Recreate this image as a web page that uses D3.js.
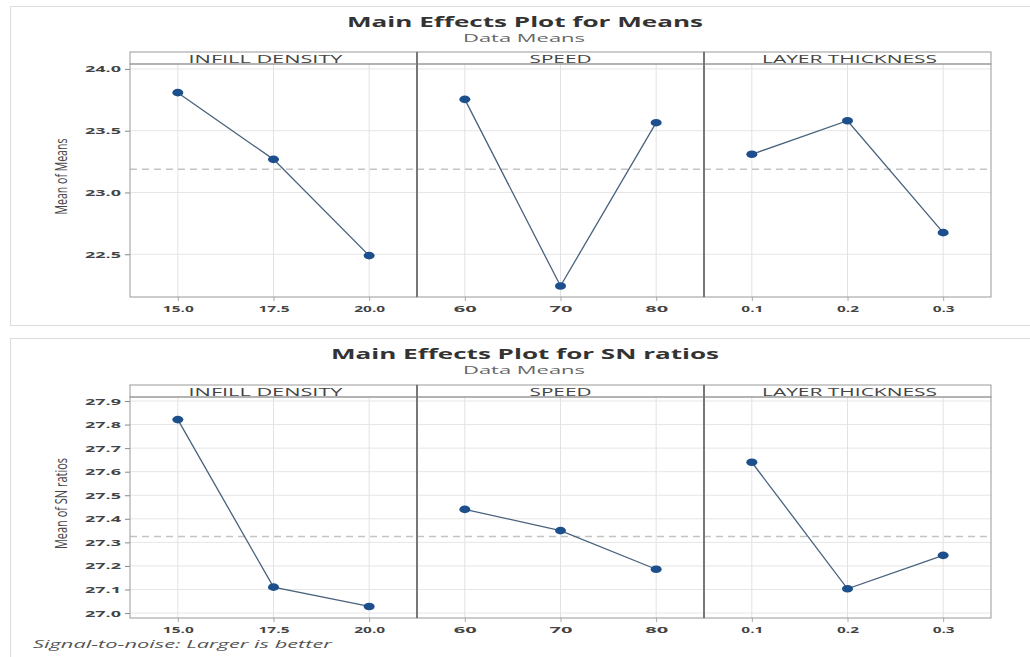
<!DOCTYPE html>
<html><head><meta charset="utf-8">
<script src="https://cdn.jsdelivr.net/npm/d3@7"></script>
<style>
html,body{margin:0;padding:0;background:#fff;}
svg{display:block;}
text{font-family:"Open Sans",sans-serif;}
</style></head>
<body>
<script>
// ---------- data ----------
const factors = ["INFILL DENSITY", "SPEED", "LAYER THICKNESS"];
const levelsInfill = ["15.0", "17.5", "20.0"];
const levelsSpeed = ["60", "70", "80"];
const levelsLayer = ["0.1", "0.2", "0.3"];

const meansInfill = [23.808, 23.268, 22.489];
const meansSpeed  = [23.754, 22.243, 23.565];
const meansLayer  = [23.309, 23.581, 22.675];

const snInfill = [27.821, 27.110, 27.028];
const snSpeed  = [27.440, 27.350, 27.186];
const snLayer  = [27.640, 27.103, 27.245];

const meansTicks = [22.5, 23.0, 23.5, 24.0];
const snTicks = [27.0, 27.1, 27.2, 27.3, 27.4, 27.5, 27.6, 27.7, 27.8, 27.9];
const meansDomain = [22.154, 24.04];
const snDomain = [26.979, 27.917];

const levels = [levelsInfill, levelsSpeed, levelsLayer];

// ---------- drawing ----------
const W = 1030, H = 657;
const svg = d3.select("body").append("svg").attr("width", W).attr("height", H);

function stretch(sel, w) {
  sel.attr("textLength", w).attr("lengthAdjust", "spacingAndGlyphs");
  return sel;
}

const panelLeft = 130, panelW = 287;

function drawChart(cfg) {
  const g = svg.append("g");
  // outer frame
  g.append("rect").attr("x", 10.5).attr("y", cfg.boxTop + 0.5)
    .attr("width", 1030).attr("height", cfg.boxH)
    .attr("fill", "none").attr("stroke", "#dcdcdc");

  // titles
  stretch(g.append("text").attr("x", 525).attr("y", cfg.titleY)
    .attr("text-anchor", "middle").attr("font-size", 13.5).attr("font-weight", "bold")
    .attr("fill", "#333").text(cfg.title), cfg.titleW);
  stretch(g.append("text").attr("x", 524).attr("y", cfg.titleY + 15)
    .attr("text-anchor", "middle").attr("font-size", 11)
    .attr("fill", "#666").text("Data Means"), 122);

  const y = d3.scaleLinear().domain(cfg.domain).range([cfg.bottom, cfg.top]);
  const all = d3.merge(cfg.series);
  const grand = d3.mean(all);

  // y axis labels + ticks
  const ya = g.append("g").attr("transform", `translate(${panelLeft},0)`)
    .call(d3.axisLeft(y).tickValues(cfg.ticks).tickFormat(d3.format(".1f")).tickSize(5).tickPadding(4));
  ya.select(".domain").remove();
  ya.selectAll("line").attr("stroke", "#888");
  ya.selectAll("text").attr("font-size", 9.5).attr("font-weight", "bold").attr("fill", "#444")
    .attr("font-family", "'Open Sans',sans-serif")
    .each(function(){ stretch(d3.select(this), 36); });

  // y title
  g.append("text")
    .attr("transform", `translate(${cfg.ylabX},${(cfg.top + cfg.bottom) / 2 - 4}) rotate(-90)`)
    .attr("text-anchor", "middle").attr("font-size", 16)
    .attr("font-family", "'Liberation Sans Narrow','Arial Narrow',sans-serif")
    .attr("fill", "#444").text(cfg.ylab)
    .call(s => stretch(s, cfg.ylabW));

  factors.forEach((f, i) => {
    const x0 = panelLeft + i * panelW;
    const x = d3.scalePoint().domain(levels[i]).range([x0, x0 + panelW]).padding(0.5);
    const pg = g.append("g");

    // horizontal grid
    pg.selectAll("line.hg").data(cfg.ticks).join("line")
      .attr("x1", x0).attr("x2", x0 + panelW)
      .attr("y1", d => y(d)).attr("y2", d => y(d))
      .attr("stroke", "#e6e6e6").attr("stroke-width", 1);
    // vertical grid
    pg.selectAll("line.vg").data(levels[i]).join("line")
      .attr("x1", d => x(d)).attr("x2", d => x(d))
      .attr("y1", cfg.top).attr("y2", cfg.bottom)
      .attr("stroke", "#e2e2e2").attr("stroke-width", 1);

    // x axis
    const xa = pg.append("g").attr("transform", `translate(0,${cfg.bottom})`)
      .call(d3.axisBottom(x).tickSize(4).tickPadding(4));
    xa.select(".domain").remove();
    xa.selectAll("line").attr("stroke", "#aaa");
    xa.selectAll("text").attr("font-size", 9.5).attr("font-weight", "bold").attr("fill", "#444")
      .attr("font-family", "'Open Sans',sans-serif")
      .each(function(d){ stretch(d3.select(this), d.length >= 4 ? 31 : (d.length === 3 ? 22 : 23)); });

    // grand mean reference
    pg.append("line").attr("x1", x0).attr("x2", x0 + panelW)
      .attr("y1", y(grand)).attr("y2", y(grand))
      .attr("stroke", "#c4c4c4").attr("stroke-width", 1.4).attr("stroke-dasharray", "7,5");

    // line
    const vals = cfg.series[i];
    const pts = levels[i].map((l, k) => [x(l), y(vals[k])]);
    pg.append("path").attr("d", d3.line()(pts))
      .attr("fill", "none").attr("stroke", "#48627c").attr("stroke-width", 1.3);
    pg.selectAll("ellipse").data(pts).join("ellipse")
      .attr("cx", d => d[0]).attr("cy", d => d[1]).attr("rx", 5.5).attr("ry", 3.8)
      .attr("fill", "#1d4f8c");

    // strip
    pg.append("rect").attr("x", x0).attr("y", cfg.stripTop)
      .attr("width", panelW).attr("height", cfg.top - cfg.stripTop)
      .attr("fill", "#fff").attr("stroke", "#999").attr("stroke-width", 1);
    stretch(pg.append("text").attr("x", x0 + panelW / 2 + cfg.stripDx[i]).attr("y", cfg.top - 1.5)
      .attr("text-anchor", "middle").attr("font-size", 11).attr("fill", "#444").text(f), cfg.stripW[i]);

    // panel frame
    pg.append("rect").attr("x", x0).attr("y", cfg.top).attr("width", panelW)
      .attr("height", cfg.bottom - cfg.top).attr("fill", "none")
      .attr("stroke", "#999").attr("stroke-width", 1);
    if (i > 0) {
      pg.append("line").attr("x1", x0).attr("x2", x0).attr("y1", cfg.stripTop).attr("y2", cfg.bottom)
        .attr("stroke", "#777").attr("stroke-width", 2);
    }
  });
}

drawChart({
  boxTop: 6, boxH: 319,
  title: "Main Effects Plot for Means", titleW: 356, titleY: 27,
  stripTop: 52, top: 64, bottom: 297,
  domain: meansDomain, ticks: meansTicks,
  series: [meansInfill, meansSpeed, meansLayer],
  ylab: "Mean of Means", ylabX: 67, ylabW: 76,
  stripW: [154, 62, 175], stripDx: [-8, 0, 2]
});

drawChart({
  boxTop: 338, boxH: 330,
  title: "Main Effects Plot for SN ratios", titleW: 388, titleY: 359,
  stripTop: 385, top: 397, bottom: 618,
  domain: snDomain, ticks: snTicks,
  series: [snInfill, snSpeed, snLayer],
  ylab: "Mean of SN ratios", ylabX: 67, ylabW: 91,
  stripW: [154, 62, 175], stripDx: [-8, 0, 2]
});

stretch(svg.append("text").attr("x", 33).attr("y", 648)
  .attr("font-size", 11).attr("font-style", "italic").attr("fill", "#555")
  .text("Signal-to-noise: Larger is better"), 299);
</script>
</body></html>
